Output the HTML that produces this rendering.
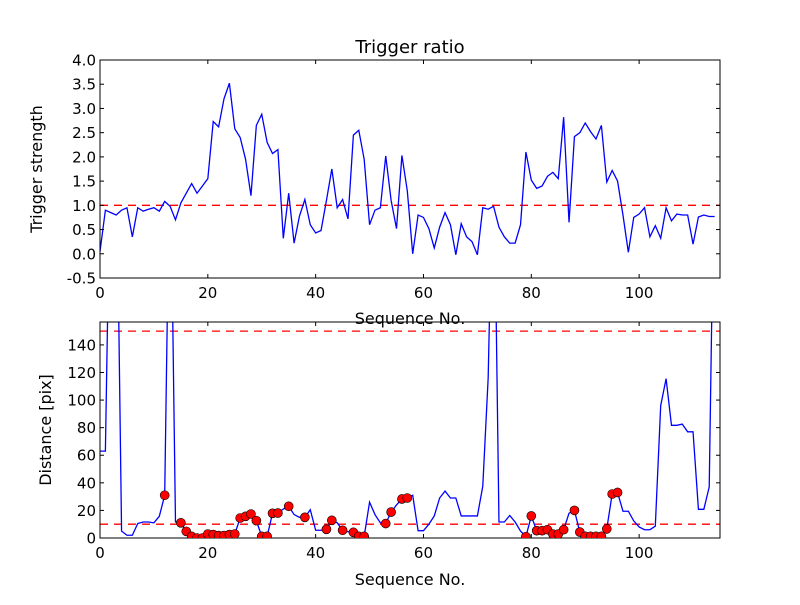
<!DOCTYPE html>
<html><head><meta charset="utf-8"><style>
body{margin:0;background:#fff}
svg text{font-family:"DejaVu Sans","Liberation Sans",sans-serif;fill:#000}
</style></head><body>
<svg id="chart" width="800" height="600" viewBox="0 0 800 600" xmlns="http://www.w3.org/2000/svg">
<rect width="800" height="600" fill="#fff"/>
<defs>
<clipPath id="c1"><rect x="100" y="60" width="620" height="218"/></clipPath>
<clipPath id="c2"><rect x="100" y="322" width="620" height="216"/></clipPath>
</defs>
<g id="topAxes"></g>
<g id="botAxes"></g>
</svg>
<script>
const strength = [0.05,0.9,0.85,0.8,0.9,0.95,0.35,0.95,0.88,0.92,0.95,0.88,1.08,0.98,0.7,1.05,1.25,1.45,1.25,1.4,1.55,2.73,2.62,3.2,3.52,2.58,2.4,1.95,1.2,2.65,2.88,2.3,2.07,2.15,0.32,1.25,0.22,0.78,1.12,0.6,0.43,0.48,1.1,1.75,0.95,1.12,0.72,2.45,2.55,1.95,0.6,0.9,0.95,2.02,1.1,0.52,2.03,1.3,0.0,0.8,0.75,0.52,0.12,0.55,0.85,0.6,-0.02,0.62,0.35,0.25,-0.02,0.95,0.92,0.98,0.55,0.35,0.22,0.22,0.6,2.1,1.52,1.35,1.4,1.6,1.68,1.55,2.82,0.65,2.42,2.5,2.7,2.52,2.37,2.65,1.48,1.72,1.5,0.8,0.03,0.75,0.82,0.95,0.35,0.58,0.32,0.95,0.68,0.82,0.8,0.8,0.2,0.76,0.8,0.77,0.77];
const distance = [63,63,300,300,5,2,2,10.5,11.6,11.6,11,15.7,31,300,11.6,11,4.8,1.2,0,0,2.9,2.5,1.8,1.8,2.5,2.9,14.5,15.7,17.4,12.6,1.2,1.2,17.9,18.1,21,23,17,15,15,20.5,5.6,5.6,6.3,12.8,11,5.6,4.5,4.1,1.2,1.2,26,17,11,10.5,18.8,24,28.3,29,31,5.3,5.3,10,16,29,34,29,29,16,16,16,16,37.5,116,300,11.6,11.6,16.3,11.6,5,1,16,5.3,5.3,6,2.9,2.9,6,18,20,4.3,1.2,1.2,1.2,1.2,6.6,31.9,33,19.4,19.4,12.4,8,6,6,8.6,96,115.5,81.7,81.7,82.6,77,77,20.8,20.8,37,300];
const markerIdx = [12,15,16,17,18,19,20,21,22,23,24,25,26,27,28,29,30,31,32,33,35,38,42,43,45,47,48,49,53,54,56,57,79,80,81,82,83,84,85,86,88,89,90,91,92,93,94,95,96];
const xTicks = [0,20,40,60,80,100];
const topYTicks = [-0.5,0,0.5,1,1.5,2,2.5,3,3.5,4];
const botYTicks = [0,20,40,60,80,100,120,140];
const topThresh = [1];
const botThresh = [10,150];

const NS="http://www.w3.org/2000/svg";
function mk(tag,attrs,parent,txt){const e=document.createElementNS(NS,tag);for(const k in attrs)e.setAttribute(k,attrs[k]);if(txt!==undefined)e.textContent=txt;parent.appendChild(e);return e;}
const X0=100,X1=720,XMAX=115;
const sx=v=>X0+v/XMAX*(X1-X0);

function axes(g,y0,y1,ymin,ymax,yTicks,fmt,series,thresh,clip){
  const sy=v=>y1-(v-ymin)/(ymax-ymin)*(y1-y0);
  thresh.forEach(t=>{
    const l=mk('line',{x1:X0,x2:X1,y1:sy(t),y2:sy(t),stroke:'#ff0000','stroke-width':1.3,'stroke-dasharray':'8,6'},g);
    
    
  });
  const pts=series.map((v,i)=>sx(i).toFixed(2)+','+sy(v).toFixed(2)).join(' ');
  const p=mk('polyline',{points:pts,fill:'none',stroke:'#0000ff','stroke-width':1.3,'clip-path':'url(#'+clip+')'},g);
  
  
  xTicks.forEach(t=>{
    const x=sx(t);
    mk('line',{x1:x,x2:x,y1:y1,y2:y1-4,stroke:'#000'},g);
    mk('line',{x1:x,x2:x,y1:y0,y2:y0+4,stroke:'#000'},g);
    const tx=mk('text',{x:x,y:y1+20,'text-anchor':'middle','font-size':15},g,String(t));
    
    
  });
  yTicks.forEach(t=>{
    const y=sy(t);
    mk('line',{x1:X0,x2:X0+4,y1:y,y2:y,stroke:'#000'},g);
    mk('line',{x1:X1,x2:X1-4,y1:y,y2:y,stroke:'#000'},g);
    const tx=mk('text',{x:X0-4,y:y+5.5,'text-anchor':'end','font-size':15},g,fmt(t));
    
    
  });
  const fr=mk('rect',{x:X0,y:y0,width:X1-X0,height:y1-y0,fill:'none',stroke:'#000','stroke-width':1},g);
  
  
  return sy;
}
const topG=document.getElementById('topAxes');
axes(topG,60,278,-0.5,4.0,topYTicks,v=>v.toFixed(1),strength,topThresh,'c1');
const botG=document.getElementById('botAxes');
const sy2=axes(botG,322,538,0,156.6,botYTicks,v=>String(v),distance,botThresh,'c2');
markerIdx.forEach(i=>{
  const c=mk('circle',{cx:sx(i),cy:sy2(distance[i]),r:4.5,fill:'#ff0000',stroke:'#000','stroke-width':0.6,'clip-path':'url(#c2)'},botG);
  
  
});
const svgEl=document.getElementById('chart');
function label(x,y,txt,name,size,rot){
  const a={x:x,y:y,'text-anchor':'middle','font-size':size};
  if(rot)a.transform='rotate(-90 '+x+' '+y+')';
  const t=mk('text',a,svgEl,txt);
  
  
}
label(410,53,'Trigger ratio','chart-title',18);
label(410,324,'Sequence No.','top-x-axis-title',16);
label(410,585,'Sequence No.','bottom-x-axis-title',16);
label(42,169,'Trigger strength','top-y-axis-title',16,true);
label(51,430,'Distance [pix]','bottom-y-axis-title',16,true);
</script>
</body></html>
